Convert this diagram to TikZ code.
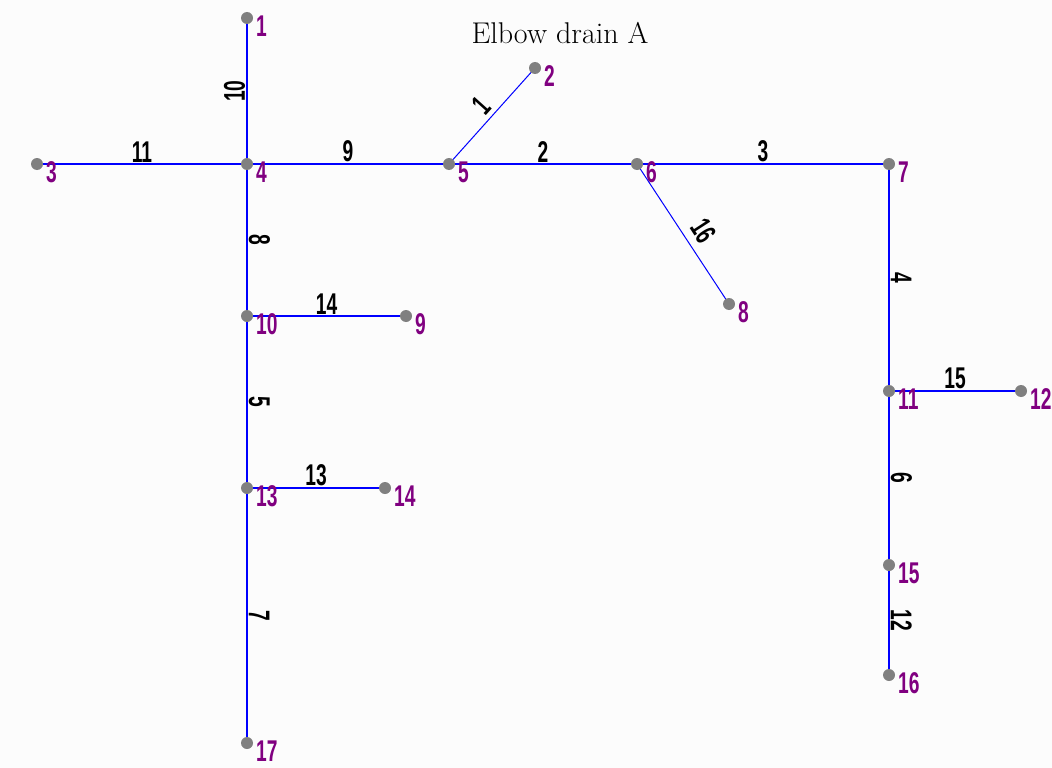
\documentclass[tikz,border=0pt]{standalone}
\usepackage{fontspec}
\newfontfamily\condf[FakeStretch=0.64]{Liberation Sans}
\definecolor{bgc}{RGB}{252,252,252}
\definecolor{pipec}{RGB}{0,0,255}
\definecolor{dotc}{RGB}{128,128,128}
\definecolor{nlabc}{RGB}{128,0,128}
\pgfdeclarelayer{back}
\pgfdeclarelayer{edges}
\pgfsetlayers{back,edges,main}
\begin{document}
\begin{tikzpicture}[x=1pt,y=-1pt,
  hpipe/.style={draw=pipec, line width=1.7pt},
  dpipe/.style={draw=pipec, line width=1pt},
  dot/.style={circle, fill=dotc, inner sep=0pt, minimum size=12pt},
  nlab/.style={text=nlabc, font=\condf\bfseries\fontsize{30}{30}\selectfont, inner sep=0pt, anchor=west},
  elab/.style={text=black, font=\condf\bfseries\fontsize{30}{30}\selectfont, inner sep=1pt, anchor=south},
  ttl/.style={font=\fontsize{30}{32}\selectfont, inner sep=0pt}
]
\begin{pgfonlayer}{back}
\fill[bgc] (0,0) rectangle (1052,768);
\end{pgfonlayer}
\useasboundingbox (0,0) rectangle (1052,768);

\node[ttl] (title) at (560,33) {Elbow drain A};

% junction dots
\node[dot] (n1)  at (247,18)  {};
\node[dot] (n2)  at (535,68)  {};
\node[dot] (n3)  at (37,164)  {};
\node[dot] (n4)  at (247,164) {};
\node[dot] (n5)  at (449,164) {};
\node[dot] (n6)  at (637,164) {};
\node[dot] (n7)  at (889,164) {};
\node[dot] (n8)  at (729,304) {};
\node[dot] (n9)  at (406,316) {};
\node[dot] (n10) at (247,316) {};
\node[dot] (n11) at (889,391) {};
\node[dot] (n12) at (1021,391) {};
\node[dot] (n13) at (247,488) {};
\node[dot] (n14) at (385,488) {};
\node[dot] (n15) at (889,565) {};
\node[dot] (n16) at (889,675) {};
\node[dot] (n17) at (247,743) {};

% node labels
\foreach \i in {1,...,17} {
  \node[nlab] (l\i) at ([xshift=9pt,yshift=-8pt]n\i.center) {\i};
}

% pipes
\begin{pgfonlayer}{edges}
\draw[dpipe] (n5.center) -- node[elab, rotate=48, inner sep=4pt] (e1) {1} (n2.center);
\draw[hpipe] (n5.center) -- node[elab] (e2) {2} (n6.center);
\draw[hpipe] (n6.center) -- node[elab] (e3) {3} (n7.center);
\draw[hpipe] (n7.center) -- node[elab, rotate=-90] (e4) {4} (n11.center);
\draw[hpipe] (n10.center) -- node[elab, rotate=-90] (e5) {5} (n13.center);
\draw[hpipe] (n11.center) -- node[elab, rotate=-90] (e6) {6} (n15.center);
\draw[hpipe] (n13.center) -- node[elab, rotate=-90] (e7) {7} (n17.center);
\draw[hpipe] (n4.center) -- node[elab, rotate=-90] (e8) {8} (n10.center);
\draw[hpipe] (n4.center) -- node[elab] (e9) {9} (n5.center);
\draw[hpipe] (n4.center) -- node[elab, rotate=90] (e10) {10} (n1.center);
\draw[hpipe] (n3.center) -- node[elab] (e11) {11} (n4.center);
\draw[hpipe] (n15.center) -- node[elab, rotate=-90] (e12) {12} (n16.center);
\draw[hpipe] (n13.center) -- node[elab] (e13) {13} (n14.center);
\draw[hpipe] (n10.center) -- node[elab] (e14) {14} (n9.center);
\draw[hpipe] (n11.center) -- node[elab] (e15) {15} (n12.center);
\draw[dpipe] (n6.center) -- node[elab, pos=0.55, rotate=-57, inner sep=8pt] (e16) {16} (n8.center);
\end{pgfonlayer}
\end{tikzpicture}
\end{document}
